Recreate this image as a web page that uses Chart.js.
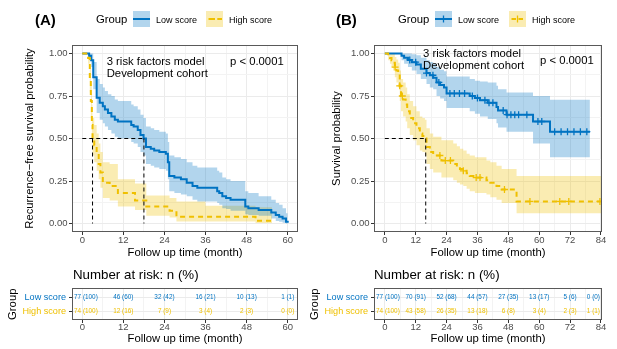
<!DOCTYPE html>
<html><head><meta charset="utf-8">
<script src="https://cdn.jsdelivr.net/npm/chart.js@4.4.1/dist/chart.umd.min.js"></script>
<style>
html,body{margin:0;padding:0;background:#fff;width:617px;height:349px;overflow:hidden;}
body{position:relative;font-family:'Liberation Sans',Arial,Helvetica,sans-serif;color:#000;}
canvas{position:absolute;}
.t{position:absolute;white-space:nowrap;line-height:1.2;}
svg.k{position:absolute;}
</style></head><body>
<canvas id="mainA" width="308" height="262" style="left:0;top:0"></canvas>
<canvas id="mainB" width="309" height="262" style="left:308px;top:0"></canvas>
<canvas id="tabA" width="308" height="69" style="left:0;top:280px"></canvas>
<canvas id="tabB" width="309" height="69" style="left:308px;top:280px"></canvas>

<div class="t" style="left:35px;top:11px;font-size:15px;font-weight:bold;">(A)</div>
<div class="t" style="left:96px;top:13.2px;font-size:11.3px;">Group</div>
<svg class="k" style="left:133px;top:11px" width="17" height="16"><rect width="17" height="16" fill="rgba(0,115,194,0.3)"/><line x1="0" y1="8" x2="17" y2="8" stroke="#0073C2" stroke-width="2"/></svg>
<div class="t" style="left:156px;top:14.6px;font-size:9px;">Low score</div>
<svg class="k" style="left:206px;top:11px" width="17" height="16"><rect width="17" height="16" fill="rgba(239,192,0,0.3)"/><line x1="2.5" y1="8" x2="16" y2="8" stroke="#EFC000" stroke-width="2" stroke-dasharray="6.5 2.3"/></svg>
<div class="t" style="left:229px;top:14.6px;font-size:9px;">High score</div>
<div class="t" style="left:106.7px;top:54.9px;font-size:11.3px;">3 risk factors model</div>
<div class="t" style="left:106.7px;top:66.5px;font-size:11.3px;">Development cohort</div>
<div class="t" style="left:230px;top:54.9px;font-size:11.3px;">p &lt; 0.0001</div>
<div class="t" style="left:73px;top:267px;font-size:13.3px;">Number at risk: n (%)</div>

<div class="t" style="left:336px;top:11px;font-size:15px;font-weight:bold;">(B)</div>
<div class="t" style="left:398px;top:13.2px;font-size:11.3px;">Group</div>
<svg class="k" style="left:435px;top:11px" width="17" height="16"><rect width="17" height="16" fill="rgba(0,115,194,0.3)"/><line x1="0" y1="8" x2="17" y2="8" stroke="#0073C2" stroke-width="2"/><line x1="8.5" y1="4.5" x2="8.5" y2="11.5" stroke="#0073C2" stroke-width="1.3"/></svg>
<div class="t" style="left:458px;top:14.6px;font-size:9px;">Low score</div>
<svg class="k" style="left:509px;top:11px" width="17" height="16"><rect width="17" height="16" fill="rgba(239,192,0,0.3)"/><line x1="2.5" y1="8" x2="16" y2="8" stroke="#EFC000" stroke-width="2" stroke-dasharray="4.5 2.5"/><line x1="8.5" y1="4.5" x2="8.5" y2="11.5" stroke="#EFC000" stroke-width="1.3"/></svg>
<div class="t" style="left:532px;top:14.6px;font-size:9px;">High score</div>
<div class="t" style="left:423px;top:47.2px;font-size:11.3px;">3 risk factors model</div>
<div class="t" style="left:423px;top:58.9px;font-size:11.3px;">Development cohort</div>
<div class="t" style="left:540px;top:53.9px;font-size:11.3px;">p &lt; 0.0001</div>
<div class="t" style="left:374px;top:267px;font-size:13.3px;">Number at risk: n (%)</div>

<script>
// ---------------- data ----------------
const groups = ['Low score', 'High score'];
const xTicksA = [0, 12, 24, 36, 48, 60];
const xMinorA = [6, 18, 30, 42, 54];
const xTicksB = [0, 12, 24, 36, 48, 60, 72, 84];
const xMinorB = [6, 18, 30, 42, 54, 66, 78];
const yTicks = [0, 0.25, 0.5, 0.75, 1];
const yMinor = [0.125, 0.375, 0.625, 0.875];

// Panel A – recurrence-free survival
const tA_low = [0, 2, 2.6, 3.2, 4.2, 5.1, 6, 6.6, 7.5, 8.5, 9.5, 10.4, 14.3, 15, 16.2, 17, 17.9, 18.6, 20, 21, 22.5, 24.4, 25, 25.4, 26.9, 28.8, 30.5, 32.2, 33.6, 39.4, 40, 40.9, 42, 43.3, 47.6, 48.5, 51.5, 55.2, 56.5, 57.5, 58.5, 59.5, 60];
const sA_low = [1, 0.987, 0.96, 0.86, 0.74, 0.71, 0.69, 0.67, 0.65, 0.63, 0.61, 0.60, 0.58, 0.57, 0.55, 0.52, 0.50, 0.45, 0.44, 0.43, 0.42, 0.41, 0.36, 0.28, 0.27, 0.26, 0.24, 0.22, 0.21, 0.19, 0.18, 0.16, 0.15, 0.14, 0.10, 0.09, 0.08, 0.065, 0.05, 0.04, 0.03, 0.01, 0.005];
const uA_low = [1, 1, 1, 0.95, 0.85, 0.82, 0.80, 0.78, 0.76, 0.75, 0.73, 0.72, 0.70, 0.69, 0.67, 0.64, 0.62, 0.57, 0.56, 0.55, 0.54, 0.53, 0.48, 0.40, 0.39, 0.38, 0.36, 0.34, 0.33, 0.31, 0.30, 0.27, 0.26, 0.25, 0.19, 0.18, 0.16, 0.14, 0.12, 0.11, 0.09, 0.06, 0.05];
const lA_low = [1, 0.96, 0.92, 0.79, 0.65, 0.61, 0.59, 0.57, 0.55, 0.53, 0.51, 0.50, 0.48, 0.47, 0.45, 0.42, 0.40, 0.35, 0.34, 0.33, 0.32, 0.31, 0.26, 0.19, 0.18, 0.17, 0.16, 0.14, 0.13, 0.12, 0.11, 0.09, 0.085, 0.075, 0.055, 0.05, 0.045, 0.03, 0.015, 0.01, 0.005, 0, 0];

const tA_high = [0, 1.7, 2.2, 2.5, 2.8, 3.0, 3.5, 4.2, 4.8, 5.3, 6.0, 8.0, 10.4, 15.4, 18.7, 25.5, 27.5, 36, 50.6, 55.4];
const sA_high = [1, 0.973, 0.85, 0.72, 0.58, 0.50, 0.46, 0.41, 0.35, 0.30, 0.24, 0.22, 0.18, 0.135, 0.10, 0.075, 0.04, 0.04, 0.016, 0.016];
const uA_high = [1, 1, 0.93, 0.82, 0.70, 0.62, 0.58, 0.53, 0.47, 0.42, 0.36, 0.35, 0.26, 0.235, 0.165, 0.15, 0.13, 0.105, 0.095, 0.095];
const lA_high = [1, 0.94, 0.77, 0.63, 0.48, 0.40, 0.36, 0.31, 0.26, 0.21, 0.15, 0.135, 0.10, 0.08, 0.045, 0.036, 0.012, 0.012, 0.003, 0.003];
const medianA = [3.0, 18.0];

// Panel B – overall survival
const tB_low = [0, 6.5, 7.5, 9, 10.5, 12.3, 14, 16.2, 17.5, 18.8, 20.1, 21.5, 23, 24, 33, 35, 37, 40, 43.4, 44, 47.3, 57.6, 64.2, 79.7];
const sB_low = [1, 0.987, 0.975, 0.962, 0.949, 0.936, 0.91, 0.885, 0.872, 0.858, 0.83, 0.815, 0.80, 0.765, 0.75, 0.738, 0.725, 0.71, 0.685, 0.665, 0.64, 0.60, 0.54, 0.54];
const uB_low = [1, 1, 1, 1, 0.995, 0.99, 0.975, 0.96, 0.95, 0.94, 0.92, 0.905, 0.895, 0.865, 0.85, 0.84, 0.835, 0.83, 0.81, 0.79, 0.77, 0.75, 0.728, 0.728];
const lB_low = [1, 0.96, 0.94, 0.92, 0.90, 0.88, 0.85, 0.82, 0.80, 0.79, 0.75, 0.735, 0.72, 0.68, 0.66, 0.645, 0.63, 0.615, 0.59, 0.565, 0.54, 0.47, 0.39, 0.39];
const cB_low = [9.7, 12, 16.2, 18.7, 21, 25.3, 27, 29, 31, 34, 36, 38.9, 40.5, 42, 46, 47.5, 49, 50.5, 52, 55.2, 59.5, 61, 66, 68.5, 71, 73.5, 76, 78.5];

const tB_high = [0, 1.3, 2, 2.6, 3.2, 3.9, 4.5, 5.2, 5.8, 6.3, 7.1, 8.1, 8.7, 9.7, 11, 12.3, 13.6, 14.6, 15.6, 16.2, 17.5, 18.8, 22, 26.6, 28, 29.2, 30.5, 31.8, 33, 35, 39.5, 41, 43.4, 45.4, 51.2, 84.4];
const sB_high = [1, 0.987, 0.973, 0.96, 0.946, 0.92, 0.90, 0.87, 0.81, 0.75, 0.73, 0.70, 0.66, 0.62, 0.59, 0.56, 0.53, 0.515, 0.50, 0.45, 0.42, 0.40, 0.37, 0.35, 0.335, 0.32, 0.31, 0.295, 0.28, 0.27, 0.255, 0.24, 0.22, 0.20, 0.13, 0.13];
const uB_high = [1, 1, 1, 1, 1, 0.98, 0.965, 0.945, 0.90, 0.85, 0.83, 0.80, 0.76, 0.72, 0.69, 0.66, 0.63, 0.62, 0.61, 0.56, 0.53, 0.51, 0.49, 0.47, 0.455, 0.44, 0.43, 0.41, 0.40, 0.39, 0.37, 0.36, 0.34, 0.32, 0.28, 0.28];
const lB_high = [1, 0.96, 0.94, 0.92, 0.90, 0.86, 0.83, 0.80, 0.72, 0.66, 0.63, 0.60, 0.56, 0.52, 0.49, 0.46, 0.43, 0.42, 0.40, 0.35, 0.32, 0.30, 0.27, 0.255, 0.24, 0.23, 0.22, 0.205, 0.19, 0.18, 0.17, 0.155, 0.14, 0.12, 0.06, 0.06];
const cB_high = [4, 5.8, 6.8, 21.4, 23.5, 25.5, 30.5, 35.5, 37, 46.5, 56.4, 68, 71.5, 83.6];
const medianB = [15.9];

// Risk tables
const riskTimesA = [0, 12, 24, 36, 48, 60];
const riskLowNA = [77, 46, 32, 16, 10, 1];
const riskLowPA = [100, 60, 42, 21, 13, 1];
const riskHighNA = [74, 12, 7, 3, 2, 0];
const riskHighPA = [100, 16, 9, 4, 3, 0];
const riskTimesB = [0, 12, 24, 36, 48, 60, 72, 84];
const riskLowNB = [77, 70, 52, 44, 27, 13, 5, 0];
const riskLowPB = [100, 91, 68, 57, 35, 17, 6, 0];
const riskHighNB = [74, 43, 26, 13, 6, 3, 2, 1];
const riskHighPB = [100, 58, 35, 18, 8, 4, 3, 1];

// ---------------- styles ----------------
const BLUE = '#0073C2', YELLOW = '#EFC000';
const BLUE_BAND = 'rgba(0,115,194,0.3)', YELLOW_BAND = 'rgba(239,192,0,0.3)';
const FONT = "'Liberation Sans', Arial, Helvetica, sans-serif";
Chart.defaults.font.family = FONT;

function pts(t, v) { return t.map((x, i) => ({x: x, y: v[i]})); }
function stepAt(t, v, x) { let y = v[0]; for (let i = 0; i < t.length; i++) { if (t[i] <= x) y = v[i]; } return y; }
function inList(arr, v) { return arr.some(m => Math.abs(m - v) < 1e-9); }
function tickObjs(major, minor) { return major.concat(minor).sort((a, b) => a - b).map(v => ({value: v})); }

function bandSets(t, up, lo, color) {
  return [
    {data: pts(t, up), stepped: true, borderWidth: 0, borderColor: 'rgba(0,0,0,0)', pointRadius: 0, fill: false, order: 3},
    {data: pts(t, lo), stepped: true, borderWidth: 0, borderColor: 'rgba(0,0,0,0)', pointRadius: 0, fill: '-1', backgroundColor: color, order: 3}
  ];
}
function curveSet(t, s, color, dash, order) {
  return {data: pts(t, s), stepped: true, borderColor: color, borderWidth: 2, borderDash: dash, pointRadius: 0, fill: false, order: order, borderCapStyle: 'butt'};
}
function medianSets(meds) {
  const mx = Math.max(...meds);
  const sets = [{data: [{x: 0, y: 0.5}, {x: mx, y: 0.5}]}];
  meds.forEach(m => sets.push({data: [{x: m, y: 0.5}, {x: m, y: 0}]}));
  return sets.map(s => Object.assign(s, {borderColor: '#000', borderWidth: 1, borderDash: [4, 3], pointRadius: 0, fill: false, order: -1}));
}
function censorSet(c, t, s, color, order) {
  return {data: c.map(x => ({x: x, y: stepAt(t, s, x)})), showLine: false, pointStyle: 'cross', pointRadius: 3.5,
    pointBorderWidth: 1.3, borderColor: color, backgroundColor: color, order: order};
}

const borderPlugin = {
  id: 'panelBorder',
  afterDatasetsDraw(chart) {
    const a = chart.chartArea, ctx = chart.ctx;
    ctx.save();
    ctx.setLineDash([]);
    ctx.strokeStyle = '#595959';
    ctx.lineWidth = 1;
    const l = Math.round(a.left), r = Math.round(a.right), t = Math.round(a.top), b = Math.round(a.bottom);
    ctx.strokeRect(l + 0.5, t + 0.5, r - l - 1, b - t - 1);
    ctx.restore();
  }
};

const riskTextPlugin = {
  id: 'riskText',
  afterDatasetsDraw(chart) {
    const ctx = chart.ctx, a = chart.chartArea;
    ctx.save();
    ctx.font = '6.4px ' + FONT;
    ctx.textAlign = 'center';
    ctx.textBaseline = 'middle';
    chart.data.datasets.forEach((ds, di) => {
      const meta = chart.getDatasetMeta(di);
      meta.data.forEach((el, i) => {
        const txt = ds.riskLabels[i];
        const w = ctx.measureText(txt).width;
        const x = Math.max(a.left + 2 + w / 2, Math.min(a.right - 2 - w / 2, el.x));
        ctx.fillStyle = ds.textColor;
        ctx.fillText(txt, x, el.y);
      });
    });
    ctx.restore();
  }
};

function xScale(min, max, major, minor, height, titlePadBottom, tickPad) {
  return {
    type: 'linear', min: min, max: max,
    afterBuildTicks: s => { s.ticks = tickObjs(major, minor); },
    afterFit: s => { s.height = height; },
    ticks: {autoSkip: false, maxRotation: 0, padding: tickPad, color: '#4D4D4D', font: {size: 9.5},
      callback: v => inList(major, v) ? String(v) : ''},
    grid: {drawTicks: true, tickLength: 3, tickWidth: 1,
      color: c => (c.tick && inList(major, c.tick.value)) ? '#EBEBEB' : '#F3F3F3',
      tickColor: c => (c.tick && inList(major, c.tick.value)) ? '#333333' : 'rgba(0,0,0,0)'},
    border: {display: false},
    title: {display: true, text: 'Follow up time (month)', color: '#000', font: {size: 11.3}, padding: {top: 0, bottom: titlePadBottom}}
  };
}
function yScale(width, title, titlePadTop) {
  return {
    type: 'linear', min: -0.05, max: 1.05,
    afterBuildTicks: s => { s.ticks = tickObjs(yTicks, yMinor); },
    afterFit: s => { s.width = width; },
    ticks: {autoSkip: false, padding: 1.5, color: '#4D4D4D', font: {size: 9.5},
      callback: v => inList(yTicks, v) ? v.toFixed(2) : ''},
    grid: {drawTicks: true, tickLength: 3, tickWidth: 1,
      color: c => (c.tick && inList(yTicks, c.tick.value)) ? '#EBEBEB' : '#F3F3F3',
      tickColor: c => (c.tick && inList(yTicks, c.tick.value)) ? '#333333' : 'rgba(0,0,0,0)'},
    border: {display: false},
    title: {display: true, text: title, color: '#000', font: {size: 11.3}, padding: {top: titlePadTop, bottom: 0}}
  };
}

function mainChart(id, datasets, xs, ys, padRight) {
  return new Chart(document.getElementById(id), {
    type: 'line',
    data: {datasets: datasets},
    options: {
      responsive: false, animation: false, devicePixelRatio: 1,
      layout: {padding: {left: 0, right: padRight, top: 45, bottom: 0}},
      plugins: {legend: {display: false}, tooltip: {enabled: false}},
      scales: {x: xs, y: ys}
    },
    plugins: [borderPlugin]
  });
}

function tableChart(id, times, lowN, lowP, highN, highP, xmin, xmax, major, minor, yTitlePad, padRight) {
  const rowOf = g => groups.length - groups.indexOf(g);
  const datasets = [
    {data: times.map(t => ({x: t, y: rowOf('Low score')})), riskLabels: lowN.map((n, i) => n + ' (' + lowP[i] + ')'), textColor: BLUE, pointRadius: 0, showLine: false},
    {data: times.map(t => ({x: t, y: rowOf('High score')})), riskLabels: highN.map((n, i) => n + ' (' + highP[i] + ')'), textColor: YELLOW, pointRadius: 0, showLine: false}
  ];
  const xs = xScale(xmin, xmax, major, minor, 29, 3.6, -1.2);
  return new Chart(document.getElementById(id), {
    type: 'line',
    data: {datasets: datasets},
    options: {
      responsive: false, animation: false, devicePixelRatio: 1,
      layout: {padding: {left: 0, right: padRight, top: 8, bottom: 0}},
      plugins: {legend: {display: false}, tooltip: {enabled: false}},
      scales: {
        x: xs,
        y: {
          type: 'linear', min: 0.4, max: 2.6,
          afterBuildTicks: s => { s.ticks = groups.map(g => ({value: rowOf(g)})); },
          afterFit: s => { s.width = id === 'tabA' ? 72 : 66; },
          ticks: {autoSkip: false, padding: 3, font: {size: 9.1},
            color: c => c.tick && c.tick.value === rowOf('Low score') ? BLUE : YELLOW,
            callback: v => groups[groups.length - v]},
          grid: {drawTicks: true, tickLength: 3, color: '#EBEBEB', tickColor: '#333333'},
          border: {display: false},
          title: {display: true, text: 'Group', color: '#000', font: {size: 11.3}, padding: {top: yTitlePad, bottom: 0}}
        }
      }
    },
    plugins: [borderPlugin, riskTextPlugin]
  });
}

// Panel A
mainChart('mainA', [
  curveSet(tA_high, sA_high, YELLOW, [5, 4], 0),
  curveSet(tA_low, sA_low, BLUE, [], 1),
  ...bandSets(tA_low, uA_low, lA_low, BLUE_BAND),
  ...bandSets(tA_high, uA_high, lA_high, YELLOW_BAND),
  ...medianSets(medianA)
], xScale(-3, 63, xTicksA, xMinorA, 30, 2.5, 0), yScale(72, 'Recurrence\u2212free survival probability', 23.2), 10);

// Panel B
mainChart('mainB', [
  censorSet(cB_high, tB_high, sB_high, YELLOW, 0),
  curveSet(tB_high, sB_high, YELLOW, [5, 4], 0),
  censorSet(cB_low, tB_low, sB_low, BLUE, 1),
  curveSet(tB_low, sB_low, BLUE, [], 1),
  ...bandSets(tB_low, uB_low, lB_low, BLUE_BAND),
  ...bandSets(tB_high, uB_high, lB_high, YELLOW_BAND),
  ...medianSets(medianB)
], xScale(-4.2, 84.4, xTicksB, xMinorB, 30, 2.5, 0), yScale(66, 'Survival probability', 22.2), 15);

// Risk tables
tableChart('tabA', riskTimesA, riskLowNA, riskLowPA, riskHighNA, riskHighPA, -3, 63, xTicksA, xMinorA, 6.2, 10);
tableChart('tabB', riskTimesB, riskLowNB, riskLowPB, riskHighNB, riskHighPB, -4.2, 84.4, xTicksB, xMinorB, 0.2, 15);
</script>
</body></html>
